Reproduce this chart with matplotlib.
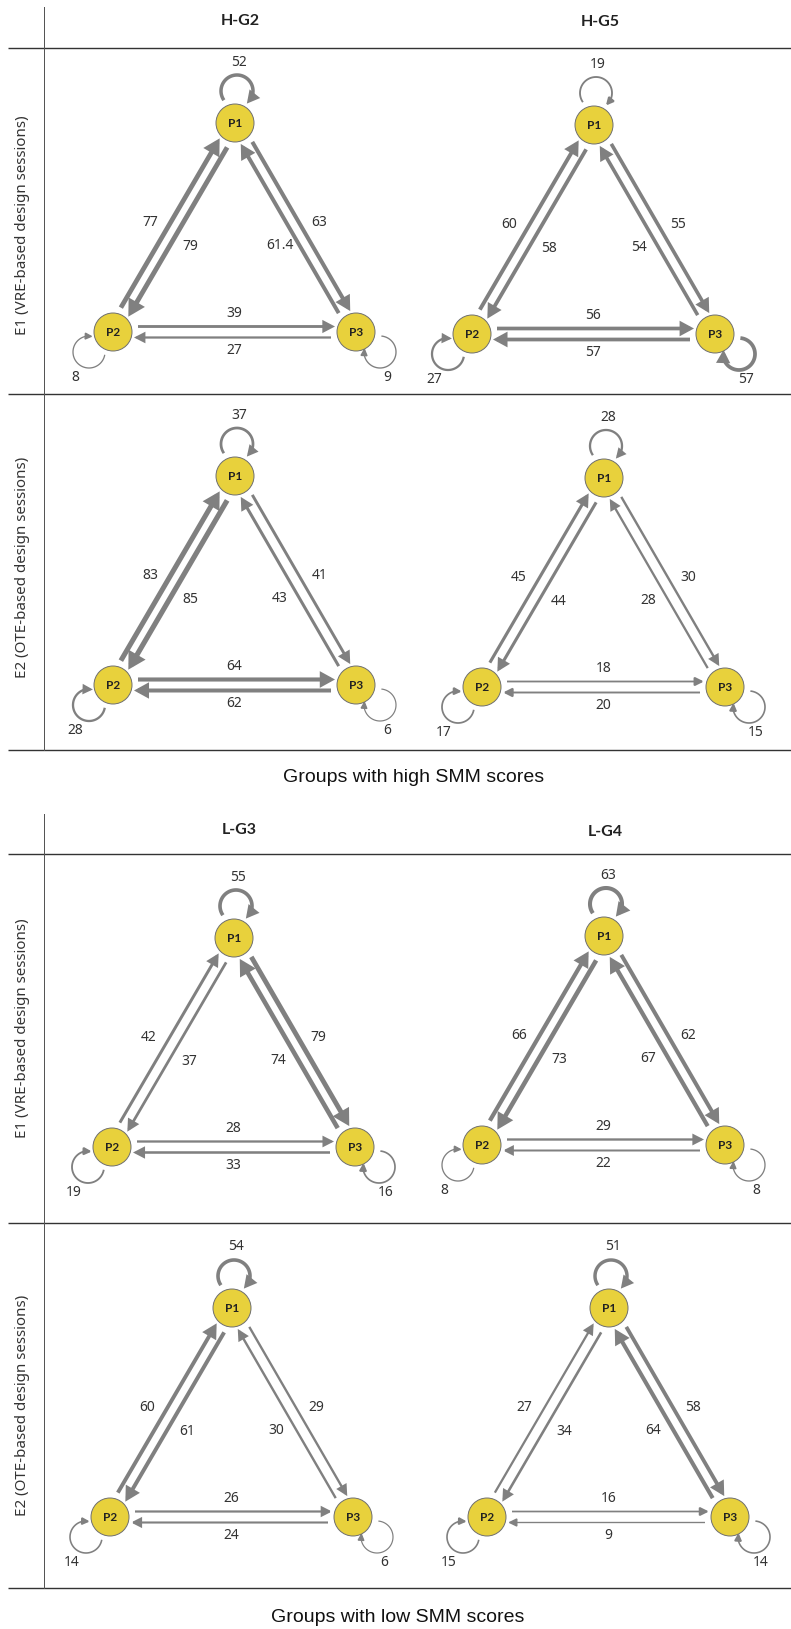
import numpy as np
import matplotlib.pyplot as plt
from matplotlib.patches import Circle, FancyArrowPatch, ArrowStyle

# transition counts
# loops: P1, P2, P3
# edges: P2>P1, P1>P2, P1>P3, P3>P1, P2>P3, P3>P2
hg2_e1_loops = [52, 8, 9]
hg2_e1_edges = [77, 79, 63, 61.4, 39, 27]
hg5_e1_loops = [19, 27, 57]
hg5_e1_edges = [60, 58, 55, 54, 56, 57]
hg2_e2_loops = [37, 28, 6]
hg2_e2_edges = [83, 85, 41, 43, 64, 62]
hg5_e2_loops = [28, 17, 15]
hg5_e2_edges = [45, 44, 30, 28, 18, 20]

lg3_e1_loops = [55, 19, 16]
lg3_e1_edges = [42, 37, 79, 74, 28, 33]
lg4_e1_loops = [63, 8, 8]
lg4_e1_edges = [66, 73, 62, 67, 29, 22]
lg3_e2_loops = [54, 14, 6]
lg3_e2_edges = [60, 61, 29, 30, 26, 24]
lg4_e2_loops = [51, 15, 14]
lg4_e2_edges = [27, 34, 58, 64, 16, 9]

groups = ['H-G2', 'H-G5', 'L-G3', 'L-G4']
rows = ['E1 (VRE-based design sessions)', 'E2 (OTE-based design sessions)']
nodes = ['P1', 'P2', 'P3']
captions = ['Groups with high SMM scores', 'Groups with low SMM scores']

# panel -> P1 centre in pixels (triangle is fixed size)
panels = [
    ((235, 123), hg2_e1_loops, hg2_e1_edges),
    ((594, 125), hg5_e1_loops, hg5_e1_edges),
    ((235, 476), hg2_e2_loops, hg2_e2_edges),
    ((604, 478), hg5_e2_loops, hg5_e2_edges),
    ((234, 938), lg3_e1_loops, lg3_e1_edges),
    ((604, 936), lg4_e1_loops, lg4_e1_edges),
    ((232, 1308), lg3_e2_loops, lg3_e2_edges),
    ((609, 1308), lg4_e2_loops, lg4_e2_edges),
]

GREY = '#808080'
YEL = '#E8D13C'
NUMFONT = ['Noto Sans', 'DejaVu Sans']
BOLDFONT = ['Lato', 'DejaVu Sans']
PX = 72 / 100.  # points per pixel

fig = plt.figure(figsize=(7.91, 16.29), dpi=100)
ax = fig.add_axes([0, 0, 1, 1])
ax.set_xlim(0, 791)
ax.set_ylim(1629, 0)
ax.axis('off')


def lw_px(v):
    return 0.9 + 0.05 * v


def head(v, k=1.0):
    hl = (7 + 0.03 * v) * k
    hw = (3.3 + 0.025 * v) * k
    return hl, hw


def arrow(p0, p1, v, k=1.0):
    hl, hw = head(v, k)
    st = ArrowStyle('-|>', head_length=hl * PX, head_width=hw * PX)
    ar = FancyArrowPatch(p0, p1, arrowstyle=st, mutation_scale=1,
                         lw=lw_px(v) * PX, color=GREY, shrinkA=0, shrinkB=0,
                         joinstyle='miter', capstyle='butt', zorder=2)
    ax.add_patch(ar)


def edge(a, b, v, sa=25, sb=21, d=5.5):
    u = (b - a) / np.hypot(*(b - a))
    left = np.array([u[1], -u[0]])
    arrow(a + u * sa + left * d, b - u * sb + left * d, v)
    return left


def loop(c, off, t0, t1, v, r=16):
    cx, cy = c[0] + off[0], c[1] + off[1]
    hl, hw = head(v, 0.85)
    # arc up to the head, head drawn as a short straight arrow
    dt = np.degrees(hl / r)
    th = np.radians(np.linspace(t0, t1 - dt * 0.8, 60))
    ax.plot(cx + r * np.cos(th), cy + r * np.sin(th), color=GREY,
            lw=lw_px(v) * PX, solid_capstyle='butt', zorder=2)
    tb = np.radians(t1 - dt)
    te = np.radians(t1)
    arrow((cx + r * np.cos(tb), cy + r * np.sin(tb)),
          (cx + r * np.cos(te), cy + r * np.sin(te)), v, 0.85)


def num(x, y, v):
    ax.text(x, y, f'{v:g}', ha='center', va='center', fontsize=10,
            color='#333333', family=NUMFONT)


for top, lp, ed in panels:
    p1 = np.array(top, float)
    p2 = p1 + [-122, 209]
    p3 = p1 + [121, 209]

    for p, name in zip([p1, p2, p3], nodes):
        ax.add_patch(Circle(p, 19, fc=YEL, ec='#6e6e6e', lw=0.7, zorder=3))
        ax.text(p[0], p[1] + 0.5, name, ha='center', va='center', fontsize=8.5,
                fontweight='bold', color='#222222', family=BOLDFONT, zorder=4)

    # self loops
    loop(p1, (2, -32), 145, 412, lp[0])
    loop(p2, (-24, 20), 10, 284, lp[1])
    loop(p3, (24, 20), -85, 195, lp[2])
    num(p1[0] + 4, p1[1] - 61, lp[0])
    num(p2[0] - 38, p2[1] + 45, lp[1])
    num(p3[0] + 31, p3[1] + 45, lp[2])

    # pairs of opposite arrows
    pairs = [(p2, p1), (p1, p2), (p1, p3), (p3, p1), (p2, p3), (p3, p2)]
    for k, ((a, b), v) in enumerate(zip(pairs, ed)):
        left = edge(a, b, v)
        mid = (a + b) / 2
        if k < 4:
            low = p2 if k < 2 else p3
            down = (low - p1) / np.hypot(*(low - p1))
            lab = mid + left * 23 + down * 8
        else:
            lab = mid + left * 18.5
        num(lab[0], lab[1], v)

# table rules
RULE = '#333333'
for y in [48, 394, 750, 854, 1223, 1588]:
    ax.plot([8, 791], [y, y], color=RULE, lw=1.4 * PX, solid_capstyle='butt')
ax.plot([44, 44], [7, 750], color='#555555', lw=1.0 * PX)
ax.plot([44, 44], [814, 1588], color='#555555', lw=1.0 * PX)

hdr = dict(ha='center', va='center', fontsize=11.5, fontweight='bold',
           color='#222222', family=BOLDFONT)
ax.text(240, 21, groups[0], **hdr)
ax.text(600, 22, groups[1], **hdr)
ax.text(239, 830, groups[2], **hdr)
ax.text(605, 832, groups[3], **hdr)

rl = dict(ha='center', va='center', rotation=90, fontsize=10.9,
          color='#333333', family=NUMFONT)
ax.text(23, 225, rows[0], **rl)
ax.text(23, 567, rows[1], **rl)
ax.text(23, 1028, rows[0], **rl)
ax.text(23, 1405, rows[1], **rl)

cap = dict(ha='center', va='center', fontsize=14, color='#111111',
           family=['Liberation Sans', 'DejaVu Sans'])
ax.text(414, 777, captions[0], **cap)
ax.text(398, 1617, captions[1], **cap)

fig.savefig('out.png', dpi=100)
